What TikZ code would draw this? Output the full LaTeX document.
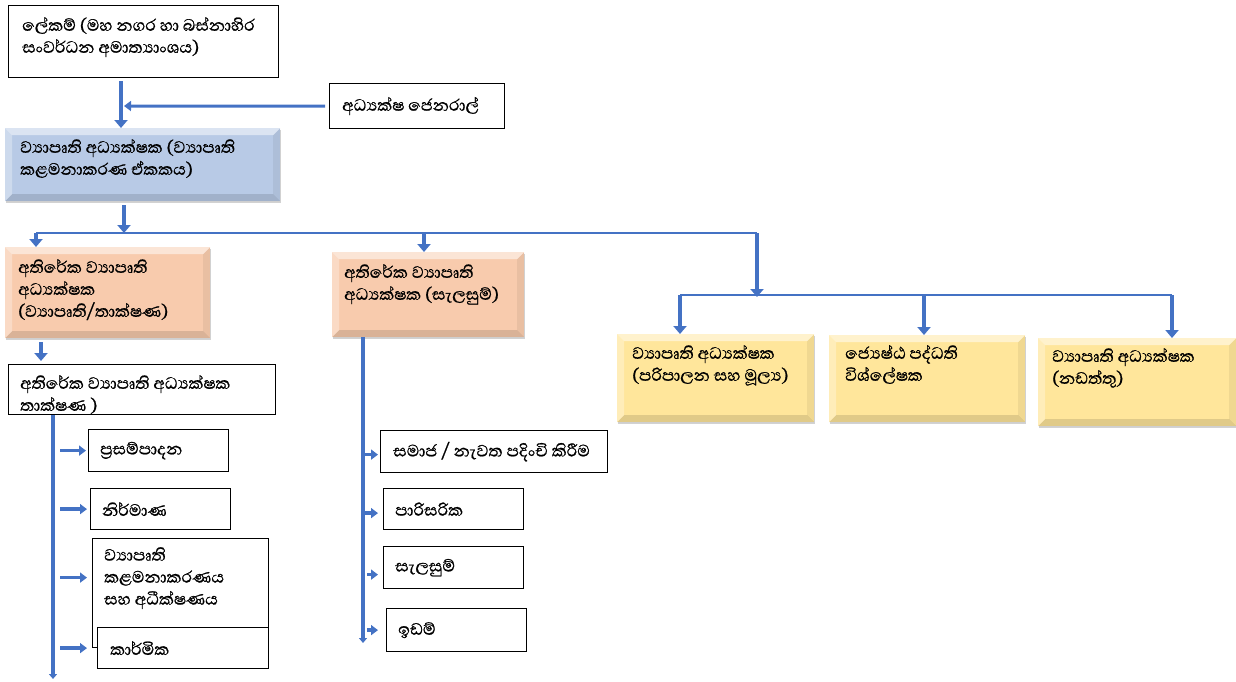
\documentclass[tikz,border=0pt]{standalone}
\usepackage{fontspec}
\newfontfamily\snfont[Script=Sinhala,FakeBold=0.8]{Abhaya Libre}
\usetikzlibrary{arrows.meta,shadows}
\definecolor{cblue}{HTML}{4472C4}
\definecolor{bluebox}{HTML}{B8CAE6}
\definecolor{orangebox}{HTML}{F8CBAD}
\definecolor{yellowbox}{HTML}{FFE69B}
\tikzset{
  plainbox/.style={draw=black, line width=1.2pt, fill=white, anchor=north west, inner sep=0pt},
  bevel/.style={fill=#1, anchor=north west, inner sep=0pt,
    drop shadow={shadow xshift=1pt, shadow yshift=-2pt, opacity=.25, fill=black!70},
    path picture={
      \fill[white,opacity=.5] (path picture bounding box.north west) -- (path picture bounding box.north east)
        -- ([shift={(-7pt,-7pt)}]path picture bounding box.north east) -- ([shift={(7pt,-7pt)}]path picture bounding box.north west) -- cycle;
      \fill[white,opacity=.3] (path picture bounding box.north west) -- ([shift={(7pt,-7pt)}]path picture bounding box.north west)
        -- ([shift={(7pt,7pt)}]path picture bounding box.south west) -- (path picture bounding box.south west) -- cycle;
      \fill[black,opacity=.12] (path picture bounding box.south west) -- (path picture bounding box.south east)
        -- ([shift={(-7pt,7pt)}]path picture bounding box.south east) -- ([shift={(7pt,7pt)}]path picture bounding box.south west) -- cycle;
      \fill[black,opacity=.06] (path picture bounding box.north east) -- (path picture bounding box.south east)
        -- ([shift={(-7pt,7pt)}]path picture bounding box.south east) -- ([shift={(-7pt,-7pt)}]path picture bounding box.north east) -- cycle;
    }},
  txt/.style={font=\snfont\fontsize{21}{22}\selectfont, align=left, inner sep=0pt, anchor=north west},
  txtw/.style={font=\snfont\fontsize{21}{22}\selectfont, inner sep=0pt, anchor=west},
  bigarrow/.style={draw=cblue, line width=4.5pt, -{Triangle[width=13pt,length=8pt]}},
  medarrow/.style={draw=cblue, line width=3pt, -{Triangle[width=10pt,length=7pt]}},
  busline/.style={draw=cblue, line width=2pt},
  trunk/.style={draw=cblue, line width=3.5pt, -{Triangle[width=8pt,length=5pt]}},
  smallarrow/.style={draw=cblue, line width=3.5pt, -{Triangle[width=10pt,length=7pt]}},
}
\begin{document}
\begin{tikzpicture}[x=1pt,y=-1pt]
\useasboundingbox (0,0) rectangle (1236,681);
% boxes
\node[plainbox, minimum width=270, minimum height=72] (a) at (8,5) {};
\node[plainbox, minimum width=175, minimum height=45] (b) at (329,83) {};
\node[bevel=bluebox, minimum width=275, minimum height=73] (c) at (5,128) {};
\node[bevel=orangebox, minimum width=205, minimum height=91] (d) at (5,247) {};
\node[bevel=orangebox, minimum width=192, minimum height=85] (e) at (332,252) {};
\node[plainbox, minimum width=267, minimum height=50] (f) at (8,364) {};
\node[bevel=yellowbox, minimum width=197, minimum height=88] (g1) at (617,334) {};
\node[bevel=yellowbox, minimum width=196, minimum height=87] (g2) at (829,335) {};
\node[bevel=yellowbox, minimum width=198, minimum height=88] (g3) at (1038,338) {};
\node[plainbox, minimum width=140, minimum height=42] (h1) at (88,429) {};
\node[plainbox, minimum width=140, minimum height=41] (h2) at (90,488) {};
\node[plainbox, minimum width=176, minimum height=109] (h3) at (92,538) {};
\node[plainbox, minimum width=171, minimum height=41] (h4) at (97,627) {};
\node[plainbox, minimum width=227, minimum height=42] (i1) at (380,430) {};
\node[plainbox, minimum width=140, minimum height=41] (i2) at (383,488) {};
\node[plainbox, minimum width=140, minimum height=42] (i3) at (383,546) {};
\node[plainbox, minimum width=140, minimum height=43] (i4) at (386,608) {};
% texts
\node[txt] (ta) at ([shift={(14pt,-12pt)}]a.north west) {ලේකම් (මහ නගර හා බස්නාහිර\\සංවර්ධන අමාත්^^^^200dයාංශය)};
\node[txtw] (tb) at ([xshift=13pt]b.west) {අධ්^^^^200dයක්ෂ ජෙනරාල්};
\node[txt] (tc) at ([shift={(15pt,-11pt)}]c.north west) {ව්^^^^200dයාපෘති අධ්^^^^200dයක්ෂක (ව්^^^^200dයාපෘති\\කළමනාකරණ ඒකකය)};
\node[txt] (td) at ([shift={(13pt,-12pt)}]d.north west) {අතිරේක ව්^^^^200dයාපෘති\\අධ්^^^^200dයක්ෂක\\(ව්^^^^200dයාපෘති/තාක්ෂණ)};
\node[txt] (te) at ([shift={(12pt,-12pt)}]e.north west) {අතිරේක ව්^^^^200dයාපෘති\\අධ්^^^^200dයක්ෂක (සැලසුම්)};
\node[txt] (tf) at ([shift={(12pt,-11pt)}]f.north west) {අතිරේක ව්^^^^200dයාපෘති අධ්^^^^200dයක්ෂක\\තාක්ෂණ )};
\node[txt] (tg1) at ([shift={(15pt,-11pt)}]g1.north west) {ව්^^^^200dයාපෘති අධ්^^^^200dයක්ෂක\\(පරිපාලන සහ මූල්^^^^200dය)};
\node[txt] (tg2) at ([shift={(16pt,-10pt)}]g2.north west) {ජ්^^^^200dයෙෂ්ඨ පද්ධති\\විශ්ලේෂක};
\node[txt] (tg3) at ([shift={(14pt,-10pt)}]g3.north west) {ව්^^^^200dයාපෘති අධ්^^^^200dයක්ෂක\\(නඩත්තු)};
\node[txtw] (th1) at ([xshift=12pt]h1.west) {ප්^^^^200dරසම්පාදන};
\node[txtw] (th2) at ([xshift=12pt]h2.west) {නිර්මාණ};
\node[txt] (th3) at ([shift={(12pt,-9pt)}]h3.north west) {ව්^^^^200dයාපෘති\\කළමනාකරණය\\සහ අධීක්ෂණය};
\node[txtw] (th4) at ([xshift=13pt]h4.west) {කාර්මික};
\node[txtw] (ti1) at ([xshift=13pt]i1.west) {සමාජ / නැවත පදිංචි කිරීම};
\node[txtw] (ti2) at ([xshift=12pt]i2.west) {පාරිසරික};
\node[txtw] (ti3) at ([xshift=12pt]i3.west) {සැලසුම්};
\node[txtw] (ti4) at ([xshift=12pt]i4.west) {ඉඩම්};
% junction coordinates
\coordinate (j1) at (121,106);
\coordinate (busc) at (124,233);
\coordinate (busL) at (36,233);
\coordinate (busM) at (424,233);
\coordinate (busR) at (757,233);
\coordinate (bus2L) at (680,295);
\coordinate (bus2M) at (924,295);
\coordinate (bus2R) at (1172,295);
\coordinate (dx) at (41,350);
\coordinate (lbot) at (53,679);
\coordinate (rbot) at (363,643);
% connectors
\draw[bigarrow, shorten <=3pt] (a.south -| j1) -- (c.north -| j1);
\draw[medarrow, shorten <=4pt, shorten >=3pt] (b.west) -- (j1);
\draw[bigarrow, shorten <=4pt] (c.south -| busc) -- (busc);
\draw[busline] (busL) -- (busR);
\draw[bigarrow] (busL) -- (d.north -| busL);
\draw[bigarrow] (busM) -- (e.north -| busM);
\draw[bigarrow] (busR) -- ([yshift=-2pt]bus2L -| busR);
\draw[busline] (bus2L) -- (bus2R);
\draw[bigarrow] (bus2L) -- (g1.north -| bus2L);
\draw[bigarrow] (bus2M) -- (g2.north -| bus2M);
\draw[bigarrow] (bus2R) -- (g3.north -| bus2R);
\draw[bigarrow, shorten <=4pt, shorten >=3pt] (d.south -| dx) -- (f.north -| dx);
\draw[trunk] (f.south -| lbot) -- (lbot);
\draw[smallarrow, shorten <=7pt, shorten >=2pt] (h1.west -| lbot) -- (h1.west);
\draw[smallarrow, shorten <=7pt, shorten >=3pt] (h2.west -| lbot) -- (h2.west);
\draw[smallarrow, shorten <=7pt, shorten >=5pt] ([yshift=15.5pt]h3.west -| lbot) -- ([yshift=15.5pt]h3.west);
\draw[smallarrow, shorten <=7pt, shorten >=10pt] (h4.west -| lbot) -- (h4.west);
\draw[trunk] (e.south -| rbot) -- (rbot);
\draw[smallarrow, shorten <=2pt, shorten >=2pt] ([yshift=-3pt]i1.west -| rbot) -- ([yshift=-3pt]i1.west);
\draw[smallarrow, shorten <=2pt, shorten >=5pt] ([yshift=-4pt]i2.west -| rbot) -- ([yshift=-4pt]i2.west);
\draw[smallarrow, shorten <=4pt, shorten >=5pt] ([yshift=-7pt]i3.west -| rbot) -- ([yshift=-7pt]i3.west);
\draw[smallarrow, shorten <=4pt, shorten >=8pt] (i4.west -| rbot) -- (i4.west);
\end{tikzpicture}
\end{document}
